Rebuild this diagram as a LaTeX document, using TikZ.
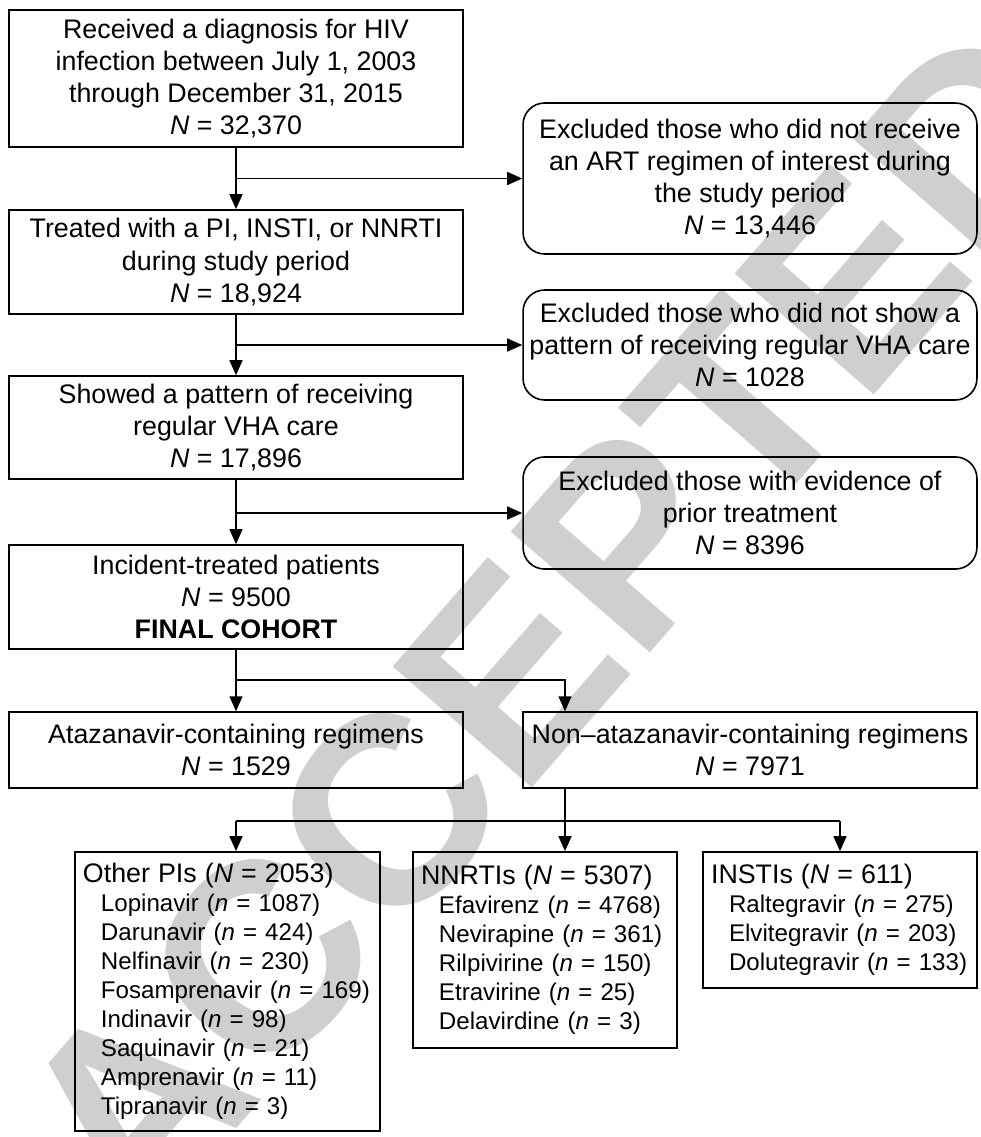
\documentclass[tikz,border=0pt]{standalone}
\usepackage{fontspec}
\setmainfont{Liberation Sans}
\usetikzlibrary{arrows.meta,calc}
\newcommand{\drugn}[2]{\\\hspace*{6.7pt}#1 (\textit{n} = #2)}

\begin{document}
\begin{tikzpicture}[x=0.373pt,y=-0.373pt,line width=0.7pt,
    >={Triangle[length=5.6pt,width=4.8pt]},
    every node/.style={font=\fontsize{10}{12}\selectfont,inner sep=0pt},
    box/.style={draw,line width=0.6pt,minimum width=169.3pt,align=center},
    exbox/.style={box,rounded corners=8pt},
    listbox/.style={draw,line width=0.6pt,align=left,inner xsep=3pt,
      font=\fontsize{9}{10.8}\selectfont}]
  \useasboundingbox (0,0) rectangle (980,1137);
  % stamp behind the chart
  \node[rotate=49,text=black!19,font=\bfseries\fontsize{100}{100}\selectfont]
    (stamp) at (554,623) {ACCEPTED};
  % main column
  \node[box,minimum height=51.1pt] (diag) at (236,78.5)
    {Received a diagnosis for HIV\\infection between July 1, 2003\\through December 31, 2015\\\textit{N} = 32,370};
  \node[box,minimum height=38.8pt] (treat) at (236,262)
    {Treated with a PI, INSTI, or NNRTI\\during study period\\\textit{N} = 18,924};
  \node[box,minimum height=38.4pt] (vha) at (236,427.5)
    {Showed a pattern of receiving\\regular VHA care\\\textit{N} = 17,896};
  \node[box,minimum height=38.8pt] (cohort) at (236,597)
    {Incident-treated patients\\\textit{N} = 9500\\\textbf{FINAL COHORT}};
  % exclusions
  \node[exbox,minimum height=56.3pt] (exart) at (750,178.5)
    {Excluded those who did not receive\\an ART regimen of interest during\\the study period\\\textit{N} = 13,446};
  \node[exbox,minimum height=41pt] (exvha) at (750,345)
    {Excluded those who did not show a\\pattern of receiving regular VHA care\\\textit{N} = 1028};
  \node[exbox,minimum height=41.8pt] (exprior) at (750,513)
    {Excluded those with evidence of\\prior treatment\\\textit{N} = 8396};
  % regimens
  \node[box,minimum height=28.3pt] (ata) at (236,750)
    {Atazanavir-containing regimens\\\textit{N} = 1529};
  \node[box,minimum height=28.3pt] (nonata) at (750,750)
    {Non--atazanavir-containing regimens\\\textit{N} = 7971};
  \node[listbox,text width=107.8pt,minimum height=104.1pt] (opi) at (227.5,991.5)
    {{\fontsize{10}{12}\selectfont Other PIs (\textit{N} = 2053)}\drugn{Lopinavir}{1087}\drugn{Darunavir}{424}%
     \drugn{Nelfinavir}{230}\drugn{Fosamprenavir}{169}\drugn{Indinavir}{98}%
     \drugn{Saquinavir}{21}\drugn{Amprenavir}{11}\drugn{Tipranavir}{3}};
  \node[listbox,text width=92.5pt,minimum height=73.1pt] (nnrti) at (545,950)
    {{\fontsize{10}{12}\selectfont NNRTIs (\textit{N} = 5307)}\drugn{Efavirenz}{4768}\drugn{Nevirapine}{361}%
     \drugn{Rilpivirine}{150}\drugn{Etravirine}{25}\drugn{Delavirdine}{3}};
  \node[listbox,text width=96.2pt,minimum height=50.7pt] (insti) at (840,920)
    {{\fontsize{10}{12}\selectfont INSTIs (\textit{N} = 611)}\drugn{Raltegravir}{275}\drugn{Elvitegravir}{203}%
     \drugn{Dolutegravir}{133}};
  % connectors
  \coordinate (split) at (236,680);
  \coordinate (drop) at (565,680);
  \coordinate (fan) at (565,821);
  \draw[->](diag)--(treat);
  \draw[->](treat)--(vha);
  \draw[->](vha)--(cohort);
  \draw[->](diag.south|-exart.west)--(exart.west);
  \draw[->](treat.south|-exvha.west)--(exvha.west);
  \draw[->](vha.south|-exprior.west)--(exprior.west);
  \draw[->](cohort)--(ata);
  \draw[->](split)--(drop)--(drop|-nonata.north);
  \draw(drop|-nonata.south)--(fan);
  \draw(ata.south|-fan)--(insti.north|-fan);
  \draw[->](ata.south|-fan)--(ata.south|-opi.north);
  \draw[->](fan)--(fan|-nnrti.north);
  \draw[->](insti.north|-fan)--(insti.north);
\end{tikzpicture}
\end{document}
